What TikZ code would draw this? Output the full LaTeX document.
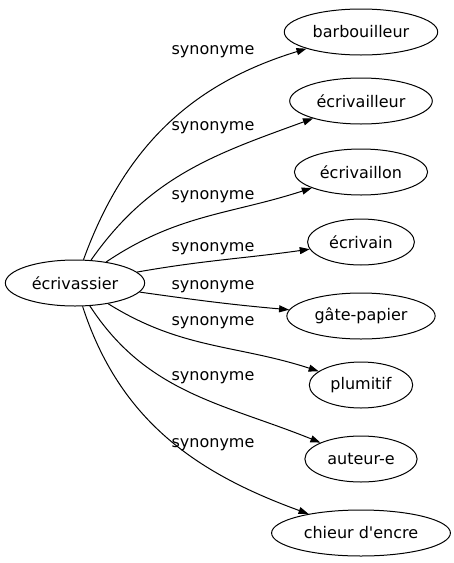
\documentclass[tikz,border=0pt]{standalone}
\usepackage{fontspec}
\setmainfont{DejaVu Sans}
\usetikzlibrary{arrows.meta,shapes.geometric}

\begin{document}
\begin{tikzpicture}[x=1pt, y=1pt,
  mot/.style={ellipse, draw, line width=1pt, minimum height=46pt, inner xsep=6pt, inner ysep=0pt, font=\fontsize{16}{19}\selectfont},
  syn/.style={line width=1pt, -{Triangle[length=10pt,width=7pt]}},
  etiq/.style={font=\fontsize{16}{19}\selectfont, inner sep=0pt}]

 \useasboundingbox (0,0) rectangle (454,-563);

 %%%%%%%%%% Les mots %%%%%%%%%%
 \node[mot] (ecrivassier) at (75,-283) {écrivassier};
 \node[mot] (barbouilleur) at (361,-32) {barbouilleur};
 \node[mot] (ecrivailleur) at (361,-101) {écrivailleur};
 \node[mot] (ecrivaillon) at (361,-172) {écrivaillon};
 \node[mot] (ecrivain) at (361,-242) {écrivain};
 \node[mot] (gatepapier) at (361,-316) {gâte-papier};
 \node[mot] (plumitif) at (361,-385) {plumitif};
 \node[mot] (auteure) at (361,-459) {auteur-e};
 \node[mot] (chieur) at (361,-533) {chieur d\textquotesingle encre};

 %%%%%%%%%% Les liens %%%%%%%%%%
 \draw[syn] (ecrivassier) to[out=70, in=197] (barbouilleur);
 \draw[syn] (ecrivassier) to[out=55, in=200] (ecrivailleur);
 \draw[syn] (ecrivassier) to[out=34, in=198] (ecrivaillon);
 \draw[syn] (ecrivassier) to[out=10, in=188] (ecrivain);
 \draw[syn] (ecrivassier) to[out=-8, in=175] (gatepapier);
 \draw[syn] (ecrivassier) to[out=-32, in=162] (plumitif);
 \draw[syn] (ecrivassier) to[out=-57, in=158] (auteure);
 \draw[syn] (ecrivassier) to[out=-72, in=160] (chieur);

 %%%%%%%%%% Les etiquettes %%%%%%%%%%
 \node[etiq] (s1) at (213,-52) {synonyme};
 \node[etiq] (s2) at (213,-128) {synonyme};
 \node[etiq] (s3) at (213,-197) {synonyme};
 \node[etiq] (s4) at (213,-249) {synonyme};
 \node[etiq] (s5) at (213,-287) {synonyme};
 \node[etiq] (s6) at (213,-323) {synonyme};
 \node[etiq] (s7) at (213,-378) {synonyme};
 \node[etiq] (s8) at (213,-445) {synonyme};

\end{tikzpicture}
\end{document}
